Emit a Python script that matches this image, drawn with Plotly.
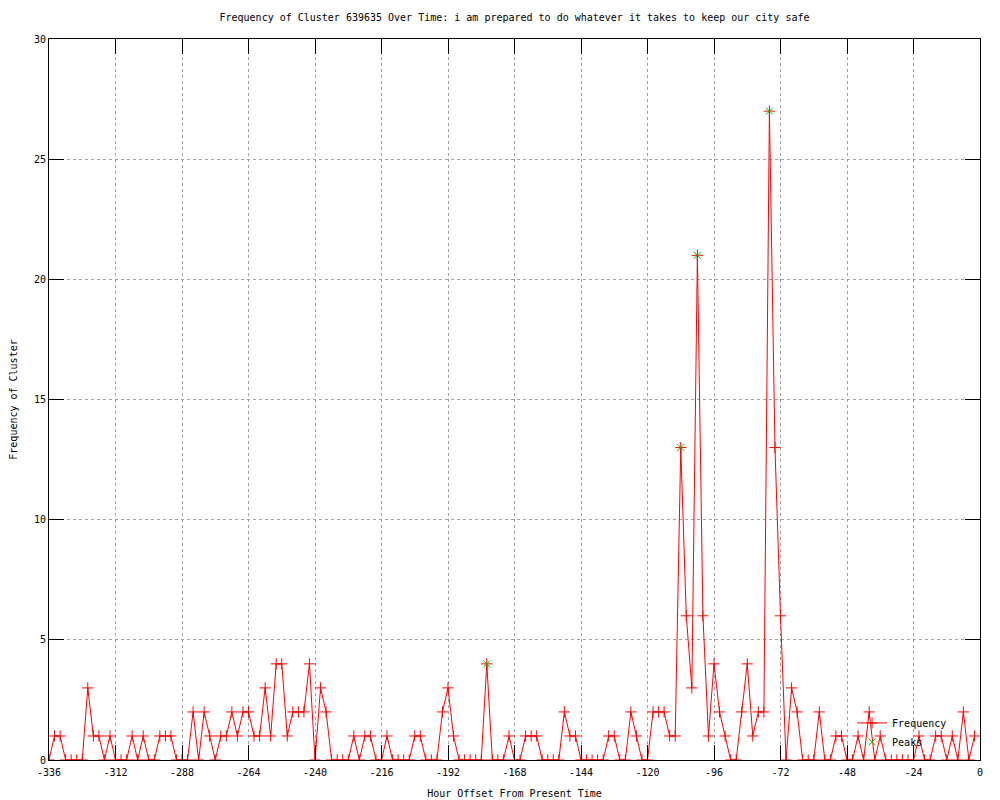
import plotly.graph_objects as go

# Hour offsets (every 2 hours from -336 to -2)
hours = list(range(-336, 0, 2))

# Frequency of cluster per 2-hour bin
frequency = [
    0, 1, 1, 0, 0, 0, 0, 3, 1, 1, 0, 1, 0, 0, 0, 1, 0, 1, 0, 0,
    1, 1, 1, 0, 0, 0, 2, 0, 2, 1, 0, 1, 1, 2, 1, 2, 2, 1, 1, 3,
    1, 4, 4, 1, 2, 2, 2, 4, 0, 3, 2, 0, 0, 0, 0, 1, 0, 1, 1, 0,
    0, 1, 0, 0, 0, 0, 1, 1, 0, 0, 0, 2, 3, 1, 0, 0, 0, 0, 0, 4,
    0, 0, 0, 1, 0, 0, 1, 1, 1, 0, 0, 0, 0, 2, 1, 1, 0, 0, 0, 0,
    0, 1, 1, 0, 0, 2, 1, 0, 0, 2, 2, 2, 1, 1, 13, 6, 3, 21, 6, 1,
    4, 2, 1, 0, 0, 2, 4, 1, 2, 2, 27, 13, 6, 0, 3, 2, 0, 0, 0, 2,
    0, 0, 1, 1, 0, 0, 1, 0, 2, 0, 1, 0, 0, 0, 0, 0, 0, 1, 0, 0,
    1, 1, 0, 1, 0, 2, 0, 1,
]

# Detected peaks
peak_hours = [-178, -108, -102, -76]
peak_values = [4, 13, 21, 27]

# Axis ticks
x_tickvals = [-336, -312, -288, -264, -240, -216, -192, -168, -144, -120, -96, -72, -48, -24, 0]
x_ticktext = ["-336", "-312", "-288", "-264", "-240", "-216", "-192", "-168", "-144", "-120", "-96", "-72", "-48", "-24", "0"]
y_tickvals = [0, 5, 10, 15, 20, 25, 30]
y_ticktext = ["0", "5", "10", "15", "20", "25", "30"]

FONT = "DejaVu Sans Mono"

fig = go.Figure()
fig.add_trace(go.Scatter(
    x=hours, y=frequency, name="Frequency", mode="lines+markers",
    line=dict(color="#ff0000", width=1),
    marker=dict(symbol="cross-thin", size=8, color="#ff0000",
                line=dict(color="#ff0000", width=1)),
))
fig.add_trace(go.Scatter(
    x=peak_hours, y=peak_values, name="Peaks", mode="markers",
    marker=dict(symbol="x-thin", size=7, color="#00c000",
                line=dict(color="#00c000", width=1)),
))

axis_common = dict(
    showline=True, linecolor="black", linewidth=1, mirror="ticks",
    ticks="inside", ticklen=15, tickcolor="black", tickwidth=1,
    showgrid=True, gridcolor="#a0a0a0", gridwidth=1, griddash="dot",
    zeroline=False, tickfont=dict(family=FONT, size=10, color="black"),
)

fig.update_xaxes(range=[-336, 0], tickvals=x_tickvals, ticktext=x_ticktext,
                 ticklabelstandoff=3,
                 title=dict(text="Hour Offset From Present Time",
                            font=dict(family=FONT, size=10, color="black"),
                            standoff=12),
                 **axis_common)
fig.update_yaxes(range=[0, 30], tickvals=y_tickvals, ticktext=y_ticktext,
                 title=dict(text="Frequency of Cluster",
                            font=dict(family=FONT, size=10, color="black"),
                            standoff=14),
                 **axis_common)

fig.update_layout(
    width=1000, height=800,
    margin=dict(l=49, r=20, t=39, b=40, autoexpand=False),
    paper_bgcolor="white", plot_bgcolor="white",
    title=dict(text="Frequency of Cluster 639635 Over Time: i am prepared to do whatever it takes to keep our city safe",
               x=0.5145, xanchor="center", y=0.978, yanchor="middle",
               font=dict(family=FONT, size=10, color="black")),
    legend=dict(x=0.97, xanchor="right", y=0.005, yanchor="bottom",
                bgcolor="rgba(0,0,0,0)", font=dict(family=FONT, size=10, color="black"),
                tracegroupgap=0, itemwidth=30),
    showlegend=True,
)

fig.write_html("out.html", config={"displayModeBar": False},
               post_script="document.body.style.margin='0';")
